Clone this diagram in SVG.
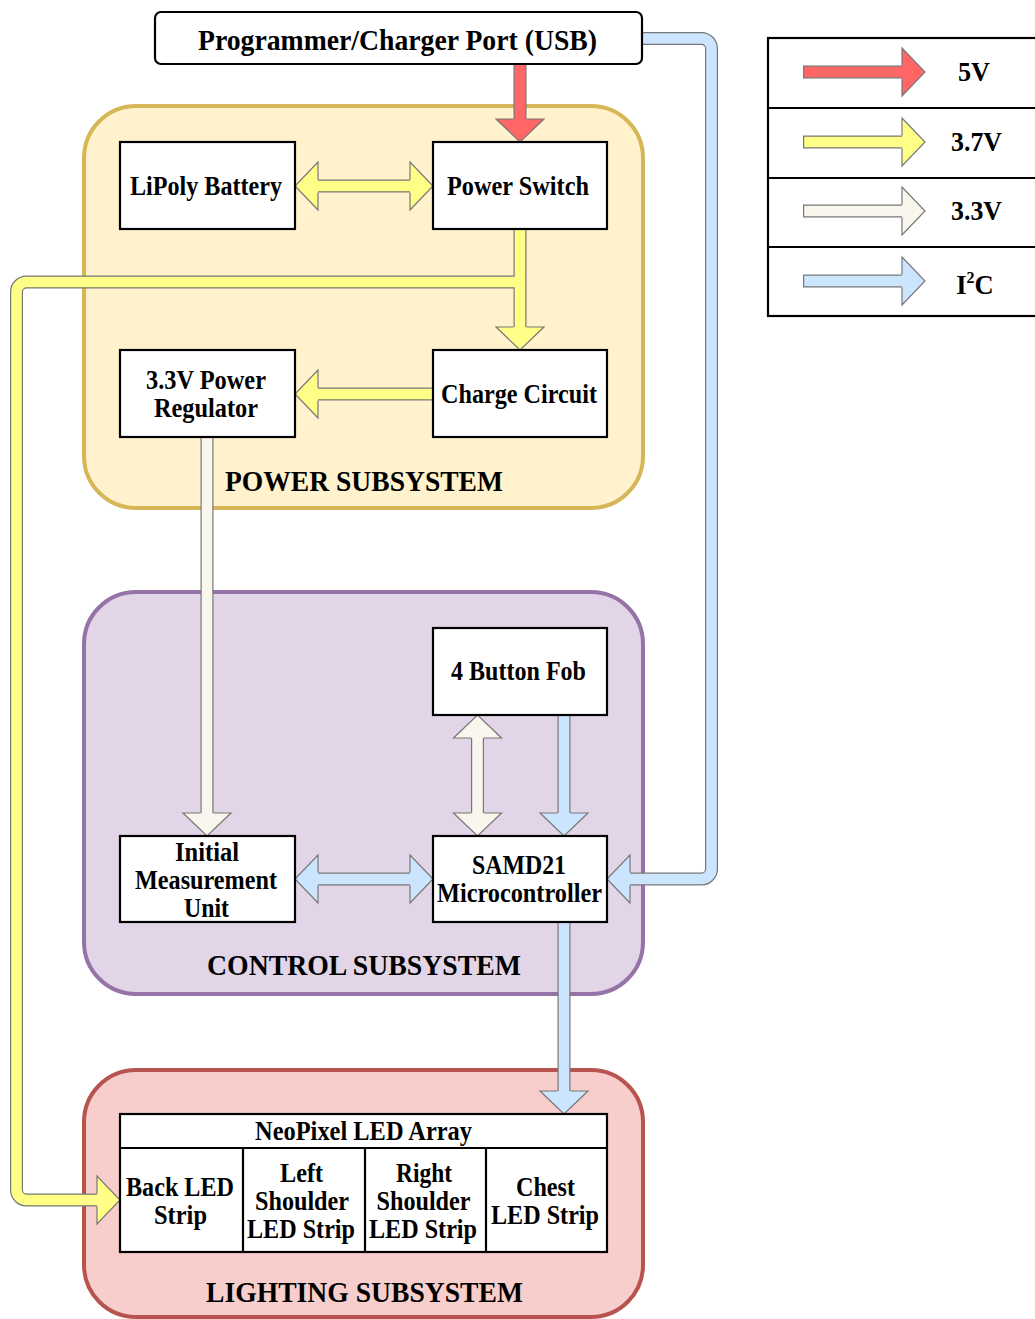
<svg xmlns="http://www.w3.org/2000/svg" width="1035" height="1319" viewBox="0 0 1035 1319">
  <style>
    .lbl { font-family: "Liberation Serif", "Times New Roman", serif; font-weight: bold; font-size: 26.5px; fill: #000; text-anchor: middle; }
    .ttl { font-family: "Liberation Serif", "Times New Roman", serif; font-weight: bold; font-size: 29px; fill: #000; text-anchor: middle; }
    .box { fill: #fff; stroke: #000; stroke-width: 2.2; }
    .ln { stroke: #000; stroke-width: 2.2; fill: none; }
    .edge { fill: none; stroke: #777; stroke-width: 13; stroke-linecap: butt; stroke-linejoin: round; }
    .head-o { fill: none; stroke: #777; stroke-width: 1.2; stroke-linejoin: miter; }
    .c5 { stroke: #ff6666; } .f5 { fill: #ff6666; }
    .c37 { stroke: #ffff88; } .f37 { fill: #ffff88; }
    .c33 { stroke: #f9f7ed; } .f33 { fill: #f9f7ed; }
    .ci2c { stroke: #cce5ff; } .fi2c { fill: #cce5ff; }
    .core { fill: none; stroke-width: 10.6; stroke-linecap: butt; stroke-linejoin: round; }
  </style>

  <!-- subsystem containers -->
  <g id="power-subsystem">
    <rect x="84" y="106" width="559" height="402" rx="52" fill="#fff2cc" stroke="#d6b656" stroke-width="4"/>
    <text class="ttl" x="364" y="491" textLength="278" lengthAdjust="spacingAndGlyphs">POWER SUBSYSTEM</text>
  </g>
  <g id="control-subsystem">
    <rect x="84" y="592" width="559" height="402" rx="52" fill="#e1d5e7" stroke="#9673a6" stroke-width="4"/>
    <text class="ttl" x="364" y="975" textLength="314" lengthAdjust="spacingAndGlyphs">CONTROL SUBSYSTEM</text>
  </g>
  <g id="lighting-subsystem">
    <rect x="84" y="1070" width="559" height="247" rx="52" fill="#f8cecc" stroke="#b85450" stroke-width="4"/>
    <text class="ttl" x="364.5" y="1302" textLength="317" lengthAdjust="spacingAndGlyphs">LIGHTING SUBSYSTEM</text>
  </g>

  <!-- connectors: outline strokes, heads, then colour cores -->
  <g id="connectors">
    <!-- outlines of the bodies -->
    <path class="edge" d="M520 64 V119"/>
    <path class="edge" d="M318 186 H410"/>
    <path class="edge" d="M520 229 V327"/>
    <path class="edge" d="M520 282 H26.5 A10 10 0 0 0 16.5 292 V1190 A10 10 0 0 0 26.5 1200 H97"/>
    <path class="edge" d="M433 394 H318"/>
    <path class="edge" d="M207 437 V813"/>
    <path class="edge" d="M477.5 738 V813"/>
    <path class="edge" d="M564 715 V813"/>
    <path class="edge" d="M318 879 H410"/>
    <path class="edge" d="M642 38.5 H701.5 A10 10 0 0 1 711.5 48.5 V869 A10 10 0 0 1 701.5 879 H630"/>
    <path class="edge" d="M564 922 V1091"/>

    <!-- heads -->
    <g class="f5"><polygon points="496,119 544,119 520,142"/></g>
    <polyline class="head-o" points="513.5,119 496,119 520,142 544,119 526.5,119"/>

    <g class="f37">
      <polygon points="318,162 318,210 295,186"/>
      <polygon points="410,162 410,210 433,186"/>
      <polygon points="496,327 544,327 520,350"/>
      <polygon points="97,1176 97,1224 120,1200"/>
      <polygon points="318,370 318,418 295,394"/>
    </g>
    <polyline class="head-o" points="318,179.5 318,162 295,186 318,210 318,192.5"/>
    <polyline class="head-o" points="410,179.5 410,162 433,186 410,210 410,192.5"/>
    <polyline class="head-o" points="513.5,327 496,327 520,350 544,327 526.5,327"/>
    <polyline class="head-o" points="97,1193.5 97,1176 120,1200 97,1224 97,1206.5"/>
    <polyline class="head-o" points="318,387.5 318,370 295,394 318,418 318,400.5"/>

    <g class="f33">
      <polygon points="183,813 231,813 207,836"/>
      <polygon points="453.5,738 501.5,738 477.5,715"/>
      <polygon points="453.5,813 501.5,813 477.5,836"/>
    </g>
    <polyline class="head-o" points="200.5,813 183,813 207,836 231,813 213.5,813"/>
    <polyline class="head-o" points="471,738 453.5,738 477.5,715 501.5,738 484,738"/>
    <polyline class="head-o" points="471,813 453.5,813 477.5,836 501.5,813 484,813"/>

    <g class="fi2c">
      <polygon points="540,813 588,813 564,836"/>
      <polygon points="318,855 318,903 295,879"/>
      <polygon points="410,855 410,903 433,879"/>
      <polygon points="630,855 630,903 607,879"/>
      <polygon points="540,1091 588,1091 564,1114"/>
    </g>
    <polyline class="head-o" points="557.5,813 540,813 564,836 588,813 570.5,813"/>
    <polyline class="head-o" points="318,872.5 318,855 295,879 318,903 318,885.5"/>
    <polyline class="head-o" points="410,872.5 410,855 433,879 410,903 410,885.5"/>
    <polyline class="head-o" points="630,872.5 630,855 607,879 630,903 630,885.5"/>
    <polyline class="head-o" points="557.5,1091 540,1091 564,1114 588,1091 570.5,1091"/>

    <!-- colour cores -->
    <path class="core c5" d="M520 64 V120"/>
    <path class="core c37" d="M317 186 H411"/>
    <path class="core c37" d="M520 229 V328"/>
    <path class="core c37" d="M520 282 H26.5 A10 10 0 0 0 16.5 292 V1190 A10 10 0 0 0 26.5 1200 H98"/>
    <path class="core c37" d="M433 394 H317"/>
    <path class="core c33" d="M207 437 V814"/>
    <path class="core c33" d="M477.5 737 V814"/>
    <path class="core ci2c" d="M564 715 V814"/>
    <path class="core ci2c" d="M317 879 H411"/>
    <path class="core ci2c" d="M642 38.5 H701.5 A10 10 0 0 1 711.5 48.5 V869 A10 10 0 0 1 701.5 879 H629"/>
    <path class="core ci2c" d="M564 922 V1092"/>
  </g>

  <!-- nodes -->
  <g id="usb-port">
    <rect class="box" x="155" y="12" width="487" height="52" rx="6"/>
    <text class="ttl" x="397.5" y="50" textLength="399" lengthAdjust="spacingAndGlyphs">Programmer/Charger Port (USB)</text>
  </g>
  <g id="lipoly-battery">
    <rect class="box" x="120" y="142" width="175" height="87"/>
    <text class="lbl" x="206" y="195" textLength="152" lengthAdjust="spacingAndGlyphs">LiPoly Battery</text>
  </g>
  <g id="power-switch">
    <rect class="box" x="433" y="142" width="174" height="87"/>
    <text class="lbl" x="518" y="195" textLength="142" lengthAdjust="spacingAndGlyphs">Power Switch</text>
  </g>
  <g id="regulator">
    <rect class="box" x="120" y="350" width="175" height="87"/>
    <text class="lbl" x="206" y="389" textLength="120" lengthAdjust="spacingAndGlyphs">3.3V Power</text>
    <text class="lbl" x="206" y="417" textLength="104" lengthAdjust="spacingAndGlyphs">Regulator</text>
  </g>
  <g id="charge-circuit">
    <rect class="box" x="433" y="350" width="174" height="87"/>
    <text class="lbl" x="519" y="403" textLength="156" lengthAdjust="spacingAndGlyphs">Charge Circuit</text>
  </g>
  <g id="button-fob">
    <rect class="box" x="433" y="628" width="174" height="87"/>
    <text class="lbl" x="518.5" y="680" textLength="135" lengthAdjust="spacingAndGlyphs">4 Button Fob</text>
  </g>
  <g id="imu">
    <rect class="box" x="120" y="836" width="175" height="86"/>
    <text class="lbl" x="207" y="861" textLength="64" lengthAdjust="spacingAndGlyphs">Initial</text>
    <text class="lbl" x="206" y="889" textLength="142" lengthAdjust="spacingAndGlyphs">Measurement</text>
    <text class="lbl" x="206.5" y="917" textLength="45" lengthAdjust="spacingAndGlyphs">Unit</text>
  </g>
  <g id="samd21">
    <rect class="box" x="433" y="836" width="174" height="86"/>
    <text class="lbl" x="519" y="874" textLength="94" lengthAdjust="spacingAndGlyphs">SAMD21</text>
    <text class="lbl" x="519.5" y="902" textLength="165" lengthAdjust="spacingAndGlyphs">Microcontroller</text>
  </g>
  <g id="neopixel-array">
    <rect class="box" x="120" y="1114" width="487" height="138"/>
    <path class="ln" d="M120 1148 H607 M243 1148 V1252 M365 1148 V1252 M486 1148 V1252"/>
    <text class="lbl" x="363.5" y="1140" textLength="217" lengthAdjust="spacingAndGlyphs">NeoPixel LED Array</text>
    <text class="lbl" x="180" y="1196" textLength="108" lengthAdjust="spacingAndGlyphs">Back LED</text>
    <text class="lbl" x="180.5" y="1224" textLength="53" lengthAdjust="spacingAndGlyphs">Strip</text>
    <text class="lbl" x="301.5" y="1182" textLength="43" lengthAdjust="spacingAndGlyphs">Left</text>
    <text class="lbl" x="302" y="1210" textLength="94" lengthAdjust="spacingAndGlyphs">Shoulder</text>
    <text class="lbl" x="301" y="1238" textLength="108" lengthAdjust="spacingAndGlyphs">LED Strip</text>
    <text class="lbl" x="424" y="1182" textLength="56" lengthAdjust="spacingAndGlyphs">Right</text>
    <text class="lbl" x="423.5" y="1210" textLength="94" lengthAdjust="spacingAndGlyphs">Shoulder</text>
    <text class="lbl" x="423" y="1238" textLength="108" lengthAdjust="spacingAndGlyphs">LED Strip</text>
    <text class="lbl" x="545.5" y="1196" textLength="59" lengthAdjust="spacingAndGlyphs">Chest</text>
    <text class="lbl" x="545" y="1224" textLength="108" lengthAdjust="spacingAndGlyphs">LED Strip</text>
  </g>

  <!-- legend -->
  <g id="legend">
    <rect x="768" y="38" width="300" height="278" fill="#fff" stroke="#000" stroke-width="2.2"/>
    <path class="ln" d="M768 108 H1035 M768 178 H1035 M768 247 H1035"/>
    <path class="edge" d="M803 72 H902 M803 142 H902 M803 211 H902 M803 281 H902"/>
    <polygon class="f5" points="902,48 902,96 925,72"/>
    <polygon class="f37" points="902,118 902,166 925,142"/>
    <polygon class="f33" points="902,187 902,235 925,211"/>
    <polygon class="fi2c" points="902,257 902,305 925,281"/>
    <polyline class="head-o" points="902,65.5 902,48 925,72 902,96 902,78.5"/>
    <polyline class="head-o" points="902,135.5 902,118 925,142 902,166 902,148.5"/>
    <polyline class="head-o" points="902,204.5 902,187 925,211 902,235 902,217.5"/>
    <polyline class="head-o" points="902,274.5 902,257 925,281 902,305 902,287.5"/>
    <path class="core c5" d="M804.2 72 H903"/>
    <path class="core c37" d="M804.2 142 H903"/>
    <path class="core c33" d="M804.2 211 H903"/>
    <path class="core ci2c" d="M804.2 281 H903"/>
    <text class="lbl" x="974" y="81" textLength="32" lengthAdjust="spacingAndGlyphs">5V</text>
    <text class="lbl" x="976.5" y="151" textLength="51" lengthAdjust="spacingAndGlyphs">3.7V</text>
    <text class="lbl" x="976.5" y="220" textLength="51" lengthAdjust="spacingAndGlyphs">3.3V</text>
    <text class="lbl" x="975" y="294">I<tspan font-size="16" dy="-11">2</tspan><tspan dy="11">C</tspan></text>
  </g>
</svg>
